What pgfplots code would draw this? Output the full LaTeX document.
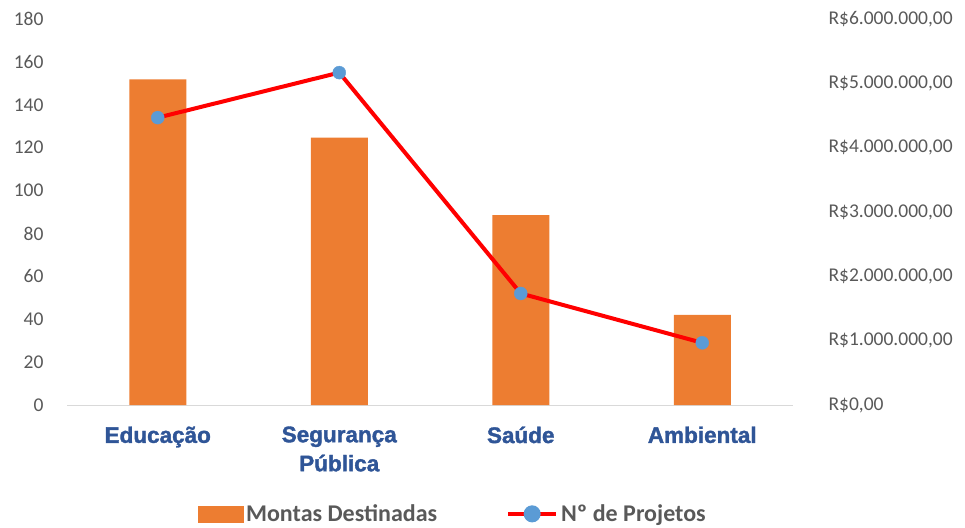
\documentclass[border=0pt]{standalone}
\usepackage{fontspec}
\setmainfont{Carlito}
\newfontfamily\catfont[FakeBold=1.6]{Liberation Sans}
\usepackage{pgfplots}
\pgfplotsset{compat=1.18}
\definecolor{barorange}{HTML}{ED7D31}
\definecolor{dotblue}{HTML}{5B9BD5}
\definecolor{catblue}{HTML}{2F5597}
\definecolor{ticgray}{HTML}{595959}
\definecolor{basegray}{HTML}{D9D9D9}
\begin{document}
\begin{tikzpicture}
\path[use as bounding box] (0,0) rectangle (965pt,527pt);
% bars: money, right axis
\begin{axis}[
  at={(67pt,122pt)}, anchor=south west,
  scale only axis, width=726pt, height=386pt,
  xmin=-0.5, xmax=3.5,
  ymin=0, ymax=6000000,
  scaled y ticks=false,
  axis x line*=bottom,
  axis y line*=right,
  x axis line style={draw=basegray, line width=1pt},
  y axis line style={draw=none},
  major tick length=0pt,
  xtick={0,1,2,3},
  xticklabels={Educação,{Segurança\\Pública},Saúde,Ambiental},
  xticklabel style={font=\catfont\bfseries\fontsize{22.5}{29}\selectfont, text=catblue, align=center, anchor=north, yshift=-18pt},
  ytick={0,1000000,2000000,3000000,4000000,5000000,6000000},
  yticklabels={{R\$0,00},{R\$1.000.000,00},{R\$2.000.000,00},{R\$3.000.000,00},{R\$4.000.000,00},{R\$5.000.000,00},{R\$6.000.000,00}},
  yticklabel style={font=\fontsize{19.5}{22}\selectfont, text=ticgray, anchor=west, xshift=32pt},
  ybar, bar width=57pt,
]
\addplot[fill=barorange, draw=none] coordinates {(0,5063000) (1,4155000) (2,2953000) (3,1399000)};
\end{axis}
% line: number of projects, left axis
\begin{axis}[
  at={(67pt,122pt)}, anchor=south west,
  scale only axis, width=726pt, height=386pt,
  xmin=-0.5, xmax=3.5,
  ymin=0, ymax=180,
  axis x line=none,
  axis y line*=left,
  y axis line style={draw=none},
  major tick length=0pt,
  ytick={0,20,...,180},
  /pgf/number format/assume math mode=true,
  yticklabel style={font=\fontsize{19.5}{22}\selectfont, text=ticgray, anchor=east, xshift=-20pt},
  legend columns=2,
  legend style={at={(0.532,-0.282)}, anchor=center, draw=none, fill=none,
    font=\bfseries\fontsize{24}{26}\selectfont, text=ticgray,
    nodes={inner xsep=3pt},
    /tikz/every even column/.append style={column sep=66pt}},
]
\addlegendimage{legend image code/.code={\fill[barorange] (-4pt,-8pt) rectangle (41pt,8pt);}}
\addlegendentry{Montas Destinadas}
\addplot[color=red, line width=4pt, mark=*, mark size=6.5pt,
  mark options={fill=dotblue, draw=dotblue, line width=0.4pt},
  legend image code/.code={\draw[red, line width=4pt] (0pt,0pt) -- (48pt,0pt); \fill[dotblue] (24pt,0pt) circle (6.5pt);}]
  coordinates {(0,134) (1,155) (2,52) (3,29)};
\addlegendentry{Nº de Projetos}
\end{axis}
\end{tikzpicture}
\end{document}
